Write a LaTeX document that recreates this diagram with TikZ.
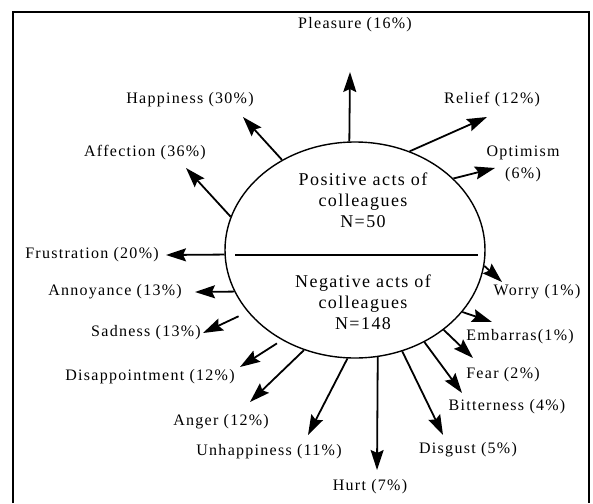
\documentclass[tikz,border=0pt]{standalone}
\usepackage{fontspec}
\setmainfont[LetterSpace=8]{Liberation Serif}
\usetikzlibrary{arrows.meta,shapes.geometric}

\begin{document}
\begin{tikzpicture}[x=0.5pt,y=-0.5pt,>={Stealth[length=10pt,width=6.5pt,inset=1.5pt]},
                    line width=0.9pt,
                    feeling node/.style={font=\fontsize{8}{11}\selectfont,align=center,inner sep=1pt},
                    acts node/.style={font=\fontsize{9}{10.5}\selectfont,align=center},
                    hub node/.style={ellipse,draw,line width=0.7pt,minimum width=130pt,
                                     minimum height=108pt,inner sep=0pt}]

  \useasboundingbox (0,0) rectangle (593,503);
  \draw[line width=1pt] (13,503) -- (13,12) -- (589,12) -- (589,503);

  \node[hub node] (hub) at (355,250) {};
  \node[acts node] (pos) at (363,200) {Positive acts of\\colleagues\\N=50};
  \node[acts node] (neg) at (363,302) {Negative acts of\\colleagues\\N=148};
  \coordinate (divL) at (235,255);
  \coordinate (divR) at (478,255);
  \draw (divL) -- (divR);

  % positive side
  \node[feeling node] (pleasure) at (355,25) {Pleasure (16\%)};
  \node[feeling node] (relief) at (492,100) {Relief (12\%)};
  \node[feeling node] (optimism) at (523,164) {Optimism\\(6\%)};
  \node[feeling node] (happiness) at (190,100) {Happiness (30\%)};
  \node[feeling node] (affection) at (145,153) {Affection (36\%)};
  \node[feeling node] (frustration) at (92,255) {Frustration (20\%)};

  % negative side
  \node[feeling node] (annoyance) at (115,292) {Annoyance (13\%)};
  \node[feeling node] (sadness) at (146,333) {Sadness (13\%)};
  \node[feeling node] (disappointment) at (150,377) {Disappointment (12\%)};
  \node[feeling node] (anger) at (221,422) {Anger (12\%)};
  \node[feeling node] (unhappiness) at (269,452) {Unhappiness (11\%)};
  \node[feeling node] (hurt) at (370,487) {Hurt (7\%)};
  \node[feeling node] (disgust) at (468,450) {Disgust (5\%)};
  \node[feeling node] (bitterness) at (507,407) {Bitterness (4\%)};
  \node[feeling node] (fear) at (503,375) {Fear (2\%)};
  \node[feeling node] (embarras) at (520,337) {Embarras(1\%)};
  \node[feeling node] (worry) at (537,292) {Worry (1\%)};

  \coordinate (pleasure tip) at (350,72);
  \coordinate (relief tip) at (487,117);
  \coordinate (optimism tip) at (495,168);
  \coordinate (happiness tip) at (243,117);
  \coordinate (affection tip) at (186,168);
  \coordinate (frustration tip) at (166,255);
  \coordinate (annoyance tip) at (195,292);
  \coordinate (sadness tip) at (203,333);
  \coordinate (disappointment tip) at (240,367);
  \coordinate (anger tip) at (250,402);
  \coordinate (unhappiness tip) at (308,435);
  \coordinate (hurt tip) at (377,470);
  \coordinate (disgust tip) at (443,435);
  \coordinate (bitterness tip) at (462,393);
  \coordinate (fear tip) at (473,358);
  \coordinate (embarras tip) at (492,322);
  \coordinate (worry tip) at (502,282);

  \path[->]
    (hub.93) edge (pleasure tip)
    (hub.61) edge (relief tip)
    (hub.36) edge (optimism tip)
    (hub.129) edge (happiness tip)
    (hub.165) edge (affection tip)
    (hub.182) edge (frustration tip)
    (hub.199) edge (annoyance tip)
    (hub.210) edge[shorten <=5pt] (sadness tip)
    (hub.231) edge[shorten <=3pt] (disappointment tip)
    (hub.243) edge (anger tip)
    (hub.266) edge (unhappiness tip)
    (hub.282) edge (hurt tip)
    (hub.295) edge (disgust tip)
    (hub.307) edge (bitterness tip)
    (hub.318) edge (fear tip)
    (hub.330) edge (embarras tip)
    (hub.353) edge (worry tip);
\end{tikzpicture}
\end{document}
